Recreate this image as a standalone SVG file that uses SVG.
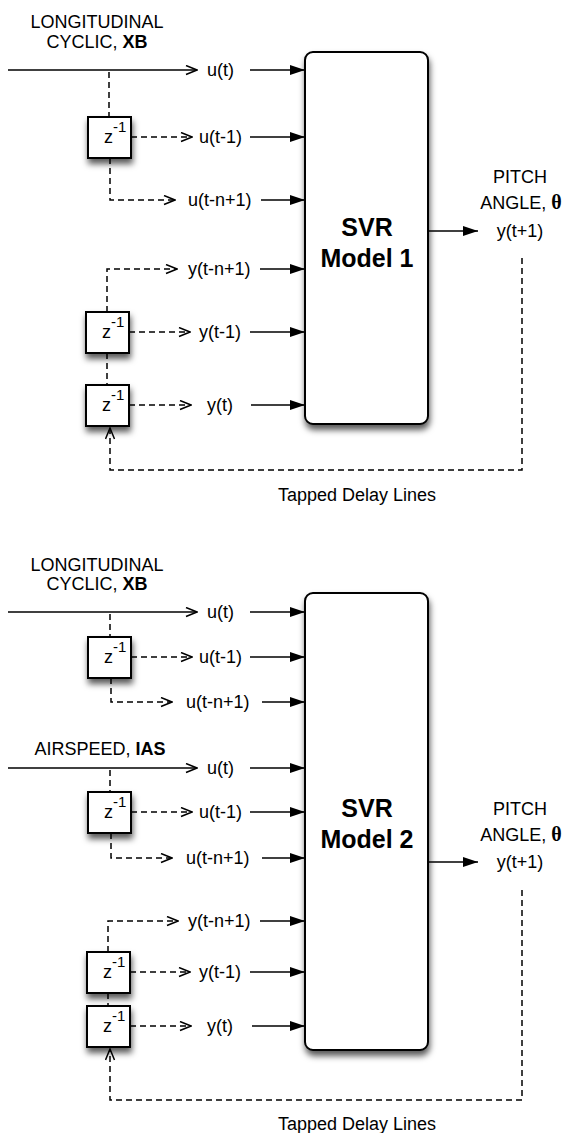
<svg xmlns="http://www.w3.org/2000/svg" width="565" height="1133" viewBox="0 0 565 1133">
  <style>
    text { font-family: "Liberation Sans", Arial, Helvetica, sans-serif; font-size: 18px; fill: #000; }
    .mid { text-anchor: middle; }
    .b { font-weight: bold; }
    .svr { font-size: 25px; font-weight: bold; text-anchor: middle; }
    .theta { font-family: "Liberation Serif", "Times New Roman", serif; font-weight: bold; font-size: 20px; }
    .sup { font-size: 15px; }
    .box { fill: #fff; stroke: #000; stroke-width: 2; filter: url(#shadow); }
    .solid { fill: none; stroke: #000; stroke-width: 1.5; marker-end: url(#filled); }
    .feed { fill: none; stroke: #000; stroke-width: 1.5; marker-end: url(#open); }
    .dash { fill: none; stroke: #000; stroke-width: 1.5; stroke-dasharray: 6 4; }
    .dasharrow { fill: none; stroke: #000; stroke-width: 1.5; stroke-dasharray: 6 4; marker-end: url(#open); }
  </style>
  <defs>
    <filter id="shadow" x="-30%" y="-30%" width="160%" height="170%">
      <feDropShadow dx="1" dy="5" stdDeviation="3" flood-color="#000" flood-opacity="0.65"/>
    </filter>
    <marker id="open" viewBox="0 0 13 11" refX="12" refY="5.5" markerWidth="13" markerHeight="11" markerUnits="userSpaceOnUse" orient="auto">
      <path d="M1,1 L12,5.5 L1,10" fill="none" stroke="#000" stroke-width="1.5" stroke-dasharray="none"/>
    </marker>
    <marker id="filled" viewBox="0 0 15 10" refX="15" refY="5" markerWidth="15" markerHeight="10" markerUnits="userSpaceOnUse" orient="auto">
      <path d="M0,0 L15,5 L0,10 z" fill="#000"/>
    </marker>
  </defs>

  <!-- ===== Model 1 ===== -->
  <g id="m1-input-label">
    <text class="mid" x="97" y="28">LONGITUDINAL</text>
    <text class="mid" x="97" y="48">CYCLIC, <tspan class="b">XB</tspan></text>
  </g>
  <g id="m1-delay-u1"><rect class="box" x="88" y="117" width="43" height="41"/><text x="104" y="143">z<tspan class="sup" dy="-11">-1</tspan></text></g>
  <g id="m1-delay-y1"><rect class="box" x="86" y="312" width="43" height="41"/><text x="102" y="338">z<tspan class="sup" dy="-11">-1</tspan></text></g>
  <g id="m1-delay-y2"><rect class="box" x="86" y="385" width="43" height="41"/><text x="102" y="411">z<tspan class="sup" dy="-11">-1</tspan></text></g>
  <g id="m1-svr">
    <rect class="box" x="305" y="52" width="123" height="372" rx="8"/>
    <text class="svr" x="367" y="236">SVR</text>
    <text class="svr" x="367" y="267">Model 1</text>
  </g>
  <g id="m1-labels">
    <text x="207" y="76">u(t)</text>
    <text x="199" y="143">u(t-1)</text>
    <text x="188" y="206">u(t-n+1)</text>
    <text x="188" y="275">y(t-n+1)</text>
    <text x="199" y="338">y(t-1)</text>
    <text x="207" y="411">y(t)</text>
  </g>
  <g id="m1-output">
    <text class="mid" x="520" y="183">PITCH</text>
    <text class="mid" x="521" y="209">ANGLE, <tspan class="theta">θ</tspan></text>
    <text class="mid" x="520" y="237">y(t+1)</text>
  </g>
  <text id="m1-caption" class="mid" x="357" y="501">Tapped Delay Lines</text>

  <g id="m1-connectors">
    <path class="feed" d="M8,70 H197"/>
    <path class="solid" d="M250,70 H305"/>
    <path class="dash" d="M109,72 V117"/>
    <path class="dasharrow" d="M131,137 H192"/>
    <path class="solid" d="M250,137 H305"/>
    <path class="dasharrow" d="M110,158 V200 H175"/>
    <path class="solid" d="M261,200 H305"/>
    <path class="dasharrow" d="M107,312 V269 H177"/>
    <path class="solid" d="M260,269 H305"/>
    <path class="dasharrow" d="M129,332 H190"/>
    <path class="solid" d="M250,332 H305"/>
    <path class="dash" d="M107,353 V385"/>
    <path class="dasharrow" d="M129,405 H191"/>
    <path class="solid" d="M251,405 H305"/>
    <path class="solid" d="M428,231 H478"/>
    <path class="dasharrow" d="M522,258 V470 H110 V428"/>
  </g>

  <!-- ===== Model 2 ===== -->
  <g id="m2-input-label-xb">
    <text class="mid" x="97" y="571">LONGITUDINAL</text>
    <text class="mid" x="97" y="590">CYCLIC, <tspan class="b">XB</tspan></text>
  </g>
  <g id="m2-input-label-ias">
    <text class="mid" x="100" y="755">AIRSPEED, <tspan class="b">IAS</tspan></text>
  </g>
  <g id="m2-delay-xb"><rect class="box" x="88" y="637" width="43" height="41"/><text x="104" y="663">z<tspan class="sup" dy="-11">-1</tspan></text></g>
  <g id="m2-delay-ias"><rect class="box" x="88" y="792" width="43" height="41"/><text x="104" y="818">z<tspan class="sup" dy="-11">-1</tspan></text></g>
  <g id="m2-delay-y1"><rect class="box" x="87" y="952" width="43" height="41"/><text x="103" y="978">z<tspan class="sup" dy="-11">-1</tspan></text></g>
  <g id="m2-delay-y2"><rect class="box" x="87" y="1006" width="43" height="41"/><text x="103" y="1032">z<tspan class="sup" dy="-11">-1</tspan></text></g>
  <g id="m2-svr">
    <rect class="box" x="305" y="593" width="123" height="457" rx="8"/>
    <text class="svr" x="367" y="817">SVR</text>
    <text class="svr" x="367" y="848">Model 2</text>
  </g>
  <g id="m2-labels">
    <text x="207" y="618">u(t)</text>
    <text x="199" y="663">u(t-1)</text>
    <text x="186" y="708">u(t-n+1)</text>
    <text x="207" y="774">u(t)</text>
    <text x="199" y="818">u(t-1)</text>
    <text x="186" y="864">u(t-n+1)</text>
    <text x="188" y="927">y(t-n+1)</text>
    <text x="199" y="978">y(t-1)</text>
    <text x="207" y="1032">y(t)</text>
  </g>
  <g id="m2-output">
    <text class="mid" x="520" y="815">PITCH</text>
    <text class="mid" x="521" y="841">ANGLE, <tspan class="theta">θ</tspan></text>
    <text class="mid" x="520" y="868">y(t+1)</text>
  </g>
  <text id="m2-caption" class="mid" x="357" y="1130">Tapped Delay Lines</text>

  <g id="m2-connectors">
    <path class="feed" d="M8,612 H197"/>
    <path class="solid" d="M250,612 H305"/>
    <path class="dash" d="M110,614 V637"/>
    <path class="dasharrow" d="M131,657 H192"/>
    <path class="solid" d="M250,657 H305"/>
    <path class="dasharrow" d="M111,678 V702 H172"/>
    <path class="solid" d="M262,702 H305"/>
    <path class="feed" d="M8,768 H197"/>
    <path class="solid" d="M250,768 H305"/>
    <path class="dash" d="M110,770 V792"/>
    <path class="dasharrow" d="M131,812 H192"/>
    <path class="solid" d="M250,812 H305"/>
    <path class="dasharrow" d="M111,833 V858 H172"/>
    <path class="solid" d="M262,858 H305"/>
    <path class="dasharrow" d="M108,952 V921 H178"/>
    <path class="solid" d="M260,921 H305"/>
    <path class="dasharrow" d="M130,972 H190"/>
    <path class="solid" d="M250,972 H305"/>
    <path class="dash" d="M108,993 V1006"/>
    <path class="dasharrow" d="M130,1026 H191"/>
    <path class="solid" d="M252,1026 H305"/>
    <path class="solid" d="M428,862 H478"/>
    <path class="dasharrow" d="M522,890 V1100 H110 V1049"/>
  </g>
</svg>
